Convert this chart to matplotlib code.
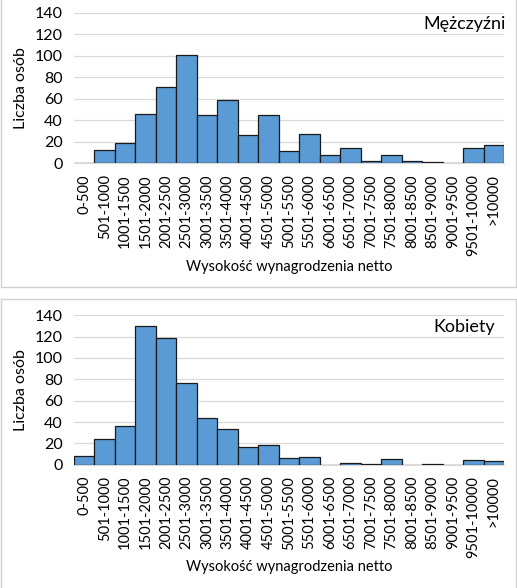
import matplotlib.pyplot as plt
from matplotlib.patches import Rectangle

plt.rcParams['font.family'] = ['Lato', 'DejaVu Sans']

bins = ["0-500", "501-1000", "1001-1500", "1501-2000", "2001-2500", "2501-3000",
        "3001-3500", "3501-4000", "4001-4500", "4501-5000", "5001-5500", "5501-6000",
        "6001-6500", "6501-7000", "7001-7500", "7501-8000", "8001-8500", "8501-9000",
        "9001-9500", "9501-10000", ">10000"]
men = [0, 12, 19, 46, 71, 101, 45, 59, 26, 45, 11, 27, 8, 14, 2, 8, 2, 1, 0, 14, 17]
women = [8, 24, 36, 130, 119, 77, 44, 33, 17, 18, 6, 7, 0, 2, 1, 5, 0, 1, 0, 4, 3]

W, H = 517, 588
fig = plt.figure(figsize=(W / 100, H / 100), dpi=100)

# panel frames
for y0, y1 in [(-2, 287), (299, 590)]:
    fig.patches.append(Rectangle((0.5 / W, 1 - y1 / H), 515 / W, (y1 - y0) / H,
                                 transform=fig.transFigure, fill=False,
                                 edgecolor='#d0d0d0', linewidth=1))


def panel(data, top, bottom, title, title_xy, xlab_y):
    ax = fig.add_axes([74 / W, 1 - bottom / H, 430 / W, (bottom - top) / H])
    x = range(len(bins))
    ax.bar(x, data, width=1.0, color='#5b9bd5', edgecolor='#1a1a1a', linewidth=0.9, zorder=3)
    ax.set_xlim(-0.5, len(bins) - 0.5)
    ax.set_ylim(0, 140)
    ax.set_yticks(range(0, 141, 20))
    ax.set_xticks(list(x))
    ax.set_xticklabels(bins, rotation=90, fontsize=10.5)
    ax.tick_params(axis='y', labelsize=11.5, length=0, pad=8)
    ax.tick_params(axis='x', length=0, pad=8)
    ax.grid(axis='y', color='#d9d9d9', linewidth=0.9, zorder=0)
    for s in ['top', 'right', 'left']:
        ax.spines[s].set_visible(False)
    ax.spines['bottom'].set_color('#d9d9d9')
    ax.set_ylabel("Liczba osób", fontsize=11.5, labelpad=5)
    fig.text(289 / W, 1 - xlab_y / H, "Wysokość wynagrodzenia netto",
             ha='center', va='center', fontsize=10.5)
    fig.text(title_xy[0] / W, 1 - title_xy[1] / H, title, ha='right', va='center', fontsize=13)
    return ax


panel(men, 12.7, 163.3, "Mężczyźni", (506, 24), 267)
panel(women, 315.3, 464.7, "Kobiety", (495, 327), 567)

fig.savefig("out.png", dpi=100)
